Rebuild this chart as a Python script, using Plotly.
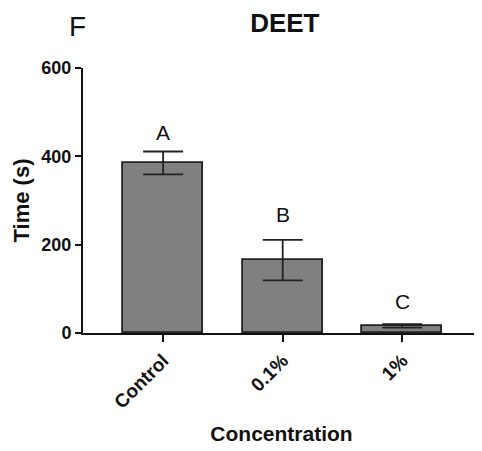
import plotly.graph_objects as go

categories = ["Control", "0.1%", "1%"]
means = [385, 165, 16]
errors = [26, 46, 4]
letters = ["A", "B", "C"]
letter_y = [455, 268, 71]
y_ticks = [0, 200, 400, 600]

FONT = "Liberation Sans, Arial, sans-serif"
INK = "#111111"

fig = go.Figure()
fig.add_trace(go.Bar(
    x=list(range(len(categories))), y=means, width=0.667,
    marker=dict(color="#808080", line=dict(color="#222222", width=1.8)),
    error_y=dict(type="data", array=errors, visible=True, color="#222222", thickness=1.8, width=20),
))
for i, (l, ly) in enumerate(zip(letters, letter_y)):
    fig.add_annotation(x=i, y=ly, text=l, showarrow=False,
                       font=dict(family=FONT, size=21, color=INK))

fig.add_annotation(xref="paper", yref="paper", x=-0.013, y=1.222, text="F", showarrow=False,
                   font=dict(family=FONT, size=28, color=INK), xanchor="center", yanchor="top")

fig.update_layout(
    width=474, height=443,
    margin=dict(l=75, r=2, t=60, b=118),
    paper_bgcolor="white", plot_bgcolor="white",
    showlegend=False,
    title=dict(text="<b>DEET</b>", x=0.584, xanchor="center", y=0.966, yanchor="middle",
               font=dict(family=FONT, size=26, color=INK)),
    font=dict(family=FONT, color=INK),
    bargap=0,
)
fig.update_xaxes(
    automargin=False,
    range=[-0.67, 2.65], tickmode="array", tickvals=list(range(len(categories))),
    ticktext=["<b>%s</b>" % c for c in categories], tickangle=-45,
    ticks="outside", ticklen=7, tickwidth=2, tickcolor=INK,
    showline=True, linecolor=INK, linewidth=2, showgrid=False, zeroline=False,
    tickfont=dict(family=FONT, size=19, color=INK),
    title=dict(text="<b>Concentration</b>", font=dict(family=FONT, size=21, color=INK), standoff=15),
)
fig.update_yaxes(
    automargin=False,
    range=[0, 600], tickmode="array", tickvals=y_ticks,
    ticktext=["<b>%d</b>" % v for v in y_ticks],
    ticks="outside", ticklen=6, tickwidth=2, tickcolor=INK,
    showline=True, linecolor=INK, linewidth=2, showgrid=False, zeroline=False,
    tickfont=dict(family=FONT, size=18, color=INK),
    title=dict(text="<b>Time (s)</b>", font=dict(family=FONT, size=22, color=INK), standoff=6),
)

fig.write_html("out.html")
